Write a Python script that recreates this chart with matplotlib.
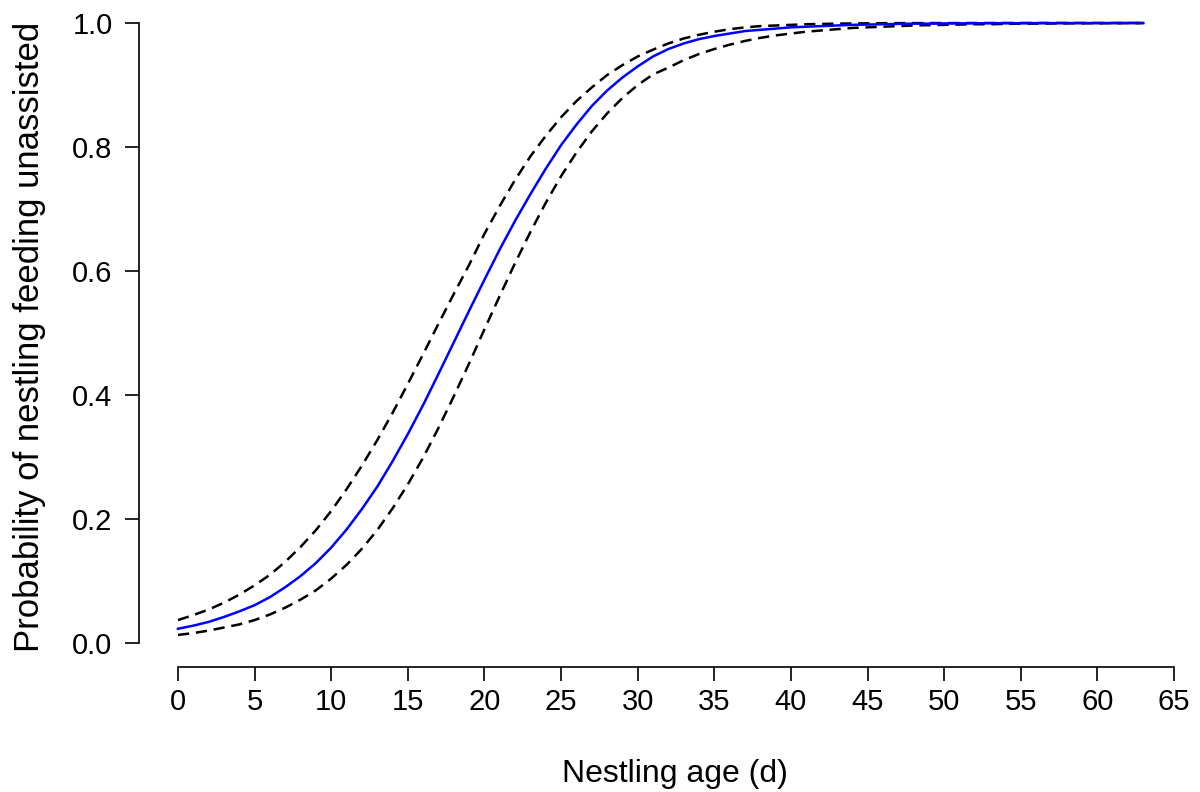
import matplotlib
matplotlib.use("Agg")
import matplotlib.pyplot as plt

plt.rcParams['font.family'] = ['Liberation Sans', 'DejaVu Sans']

# nestling age (days)
age = list(range(0, 64))

# fitted probability of feeding unassisted
fit = [0.023, 0.028, 0.034, 0.042, 0.051, 0.061, 0.074, 0.090, 0.108, 0.129,
       0.154, 0.183, 0.216, 0.252, 0.293, 0.337, 0.384, 0.434, 0.485, 0.536,
       0.586, 0.635, 0.681, 0.724, 0.765, 0.803, 0.836, 0.866, 0.891, 0.912,
       0.930, 0.946, 0.958, 0.967, 0.974, 0.979, 0.983, 0.987, 0.989, 0.991,
       0.993, 0.994, 0.995, 0.996, 0.997, 0.9975, 0.998, 0.9985, 0.999, 0.999,
       0.9993, 0.9994, 0.9995, 0.9996, 0.9997, 0.9997, 0.9998, 0.9998, 0.9999, 0.9999,
       0.9999, 0.9999, 1.0, 1.0]

# upper confidence bound
upper = [0.037, 0.045, 0.054, 0.065, 0.078, 0.093, 0.110, 0.131, 0.155, 0.182,
         0.213, 0.248, 0.286, 0.327, 0.371, 0.418, 0.466, 0.515, 0.563, 0.610,
         0.660, 0.705, 0.747, 0.785, 0.818, 0.848, 0.874, 0.896, 0.916, 0.932,
         0.946, 0.957, 0.967, 0.975, 0.981, 0.986, 0.990, 0.993, 0.995, 0.996,
         0.997, 0.998, 0.9985, 0.999, 0.9993, 0.9995, 0.9997, 0.9998, 0.9998, 0.9999,
         0.9999, 0.9999, 1.0, 1.0, 1.0, 1.0, 1.0, 1.0, 1.0, 1.0,
         1.0, 1.0, 1.0, 1.0]

# lower confidence bound
lower = [0.013, 0.016, 0.020, 0.025, 0.030, 0.037, 0.046, 0.057, 0.070, 0.085,
         0.104, 0.126, 0.152, 0.182, 0.217, 0.256, 0.299, 0.347, 0.398, 0.451,
         0.506, 0.560, 0.613, 0.663, 0.710, 0.753, 0.791, 0.825, 0.854, 0.879,
         0.900, 0.917, 0.928, 0.940, 0.950, 0.958, 0.965, 0.971, 0.976, 0.980,
         0.983, 0.986, 0.988, 0.990, 0.992, 0.993, 0.994, 0.995, 0.996, 0.9965,
         0.997, 0.9975, 0.998, 0.998, 0.9985, 0.999, 0.999, 0.9992, 0.9994, 0.9995,
         0.9996, 0.9997, 0.9998, 0.9998]

xticks = list(range(0, 70, 5))
yticks = [0.0, 0.2, 0.4, 0.6, 0.8, 1.0]

fig = plt.figure(figsize=(12, 7.92), dpi=100)
# axes box edges sit on the detached axis lines (R style)
ax = fig.add_axes([139 / 1200, (792 - 667) / 792, (1190 - 139) / 1200, (667 - 10) / 792])
px_per_day = (1174 - 178) / 65
ax.set_xlim(-(178 - 139) / px_per_day, 65 + 16 / px_per_day)
ax.set_ylim(-24 / 620, 1 + 13 / 620)

ax.plot(age, upper, color='black', lw=1.8, ls=(0, (4.5, 2.7)))
ax.plot(age, lower, color='black', lw=1.8, ls=(0, (4.5, 2.7)))
ax.plot(age, fit, color='#0000ff', lw=1.8)

for s in ['top', 'right']:
    ax.spines[s].set_visible(False)
ax.spines['left'].set_bounds(0, 1)
ax.spines['bottom'].set_bounds(0, 65)
ax.spines['left'].set_linewidth(1.2)
ax.spines['bottom'].set_linewidth(1.2)

ax.set_xticks(xticks)
ax.set_xticklabels([str(t) for t in xticks])
ax.set_yticks(yticks)
ax.set_yticklabels([f"{t:.1f}" for t in yticks])
ax.tick_params(axis='both', direction='out', length=10, width=1.2, labelsize=21)
ax.tick_params(axis='x', pad=5)
ax.tick_params(axis='y', pad=9)

fig.text(675 / 1200, (792 - 782) / 792, 'Nestling age (d)', fontsize=23,
         ha='center', va='baseline')
fig.text(30 / 1200, (792 - 337) / 792, 'Probability of nestling feeding unassisted',
         fontsize=25, rotation=90, ha='center', va='center')

fig.savefig('out.png', dpi=100)
